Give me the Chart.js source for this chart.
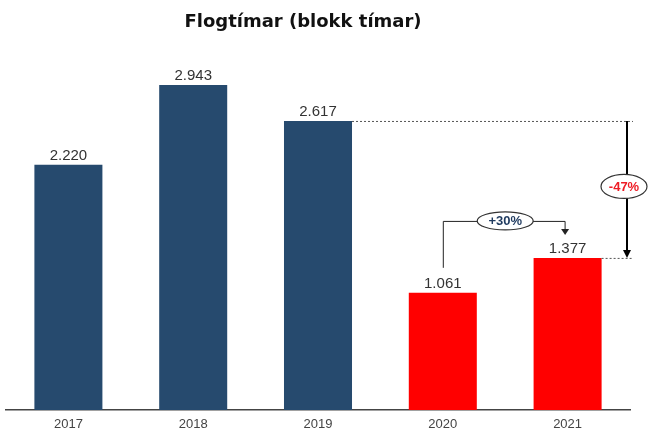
<!DOCTYPE html>
<html><head><meta charset="utf-8">
<script src="https://cdn.jsdelivr.net/npm/chart.js@4"></script>
<style>html,body{margin:0;padding:0;background:#fff}#wrap{width:648px;height:432px;position:relative}</style>
</head><body><div id="wrap"><canvas id="c" width="648" height="432"></canvas></div>
<script>
const title = "Flogtímar (blokk tímar)";
const categories = ["2017", "2018", "2019", "2020", "2021"];
const values = [2220, 2943, 2617, 1061, 1377];
const valueLabels = ["2.220", "2.943", "2.617", "1.061", "1.377"];
const barColors = ["#264a6e", "#264a6e", "#264a6e", "#ff0000", "#ff0000"];
const changeLabels = ["+30%", "-47%"];

const annot = {
  id: 'annot',
  afterDatasetsDraw(chart) {
    const ctx = chart.ctx, ca = chart.chartArea;
    const meta = chart.getDatasetMeta(0);
    ctx.save();
    // title
    ctx.fillStyle = '#111';
    ctx.font = 'bold 18px "DejaVu Sans"';
    ctx.textAlign = 'center'; ctx.textBaseline = 'middle';
    ctx.fillText(title, 303, 22);
    // value labels
    ctx.font = '15px "Liberation Sans"';
    ctx.fillStyle = '#333';
    ctx.textBaseline = 'alphabetic';
    meta.data.forEach((b, i) => {
      ctx.fillText(valueLabels[i], b.x, b.y - 5);
    });
    const b2019 = meta.data[2], b2020 = meta.data[3], b2021 = meta.data[4];
    const rx = ca.right - 3;
    // dotted lines
    ctx.strokeStyle = '#555'; ctx.lineWidth = 1; ctx.setLineDash([2, 2]);
    ctx.beginPath();
    ctx.moveTo(b2019.x + b2019.width / 2, b2019.y + 0.5); ctx.lineTo(ca.right + 3, b2019.y + 0.5);
    ctx.moveTo(b2021.x + b2021.width / 2, b2021.y + 0.5); ctx.lineTo(ca.right + 3, b2021.y + 0.5);
    ctx.stroke();
    ctx.setLineDash([]);
    // -47% vertical arrow
    ctx.strokeStyle = '#000'; ctx.lineWidth = 2;
    ctx.beginPath(); ctx.moveTo(rx, b2019.y); ctx.lineTo(rx, b2021.y - 6); ctx.stroke();
    ctx.fillStyle = '#000';
    ctx.beginPath(); ctx.moveTo(rx - 4, b2021.y - 8); ctx.lineTo(rx + 4, b2021.y - 8); ctx.lineTo(rx, b2021.y); ctx.closePath(); ctx.fill();
    const ey = (b2019.y + b2021.y) / 2 - 3;
    ctx.beginPath(); ctx.ellipse(rx - 3, ey, 23, 12, 0, 0, Math.PI * 2);
    ctx.fillStyle = '#fff'; ctx.fill(); ctx.lineWidth = 1.2; ctx.strokeStyle = '#333'; ctx.stroke();
    ctx.fillStyle = '#ee1c25'; ctx.font = 'bold 13px "Liberation Sans"'; ctx.textBaseline = 'middle';
    ctx.fillText(changeLabels[1], rx - 3, ey + 1);
    // +30% connector
    const hy = b2021.y - 37;
    ctx.strokeStyle = '#222'; ctx.lineWidth = 1;
    ctx.beginPath();
    ctx.moveTo(b2020.x + 0.5, b2020.y - 25); ctx.lineTo(b2020.x + 0.5, hy + 0.5);
    ctx.lineTo(b2021.x - 2.5, hy + 0.5); ctx.lineTo(b2021.x - 2.5, hy + 9);
    ctx.stroke();
    ctx.fillStyle = '#222';
    ctx.beginPath(); ctx.moveTo(b2021.x - 6.5, hy + 8); ctx.lineTo(b2021.x + 1.5, hy + 8); ctx.lineTo(b2021.x - 2.5, hy + 14); ctx.closePath(); ctx.fill();
    const ex = (b2020.x + b2021.x) / 2;
    ctx.beginPath(); ctx.ellipse(ex, hy, 28, 9, 0, 0, Math.PI * 2);
    ctx.fillStyle = '#fff'; ctx.fill(); ctx.lineWidth = 1.2; ctx.strokeStyle = '#333'; ctx.stroke();
    ctx.fillStyle = '#1f3a5f'; ctx.font = 'bold 13px "Liberation Sans"';
    ctx.fillText(changeLabels[0], ex, hy + 1);
    ctx.restore();
  }
};

new Chart(document.getElementById('c'), {
  type: 'bar',
  data: { labels: categories, datasets: [{ data: values, backgroundColor: barColors, borderWidth: 0, categoryPercentage: 1, barPercentage: 0.545 }] },
  options: {
    responsive: false, animation: false, devicePixelRatio: 1,
    layout: { padding: { top: 40, left: 6, right: 18, bottom: 0 } },
    plugins: { legend: { display: false }, tooltip: { enabled: false }, title: { display: false } },
    scales: {
      y: { display: false, min: 0, max: 3350 },
      x: {
        grid: { display: false, drawTicks: false },
        border: { display: true, color: '#444', width: 1.5 },
        ticks: { color: '#444', font: { family: '"Liberation Sans"', size: 13 }, padding: 7, maxRotation: 0 },
        afterFit(s) { s.height = 22; }
      }
    }
  },
  plugins: [annot]
});
</script></body></html>
